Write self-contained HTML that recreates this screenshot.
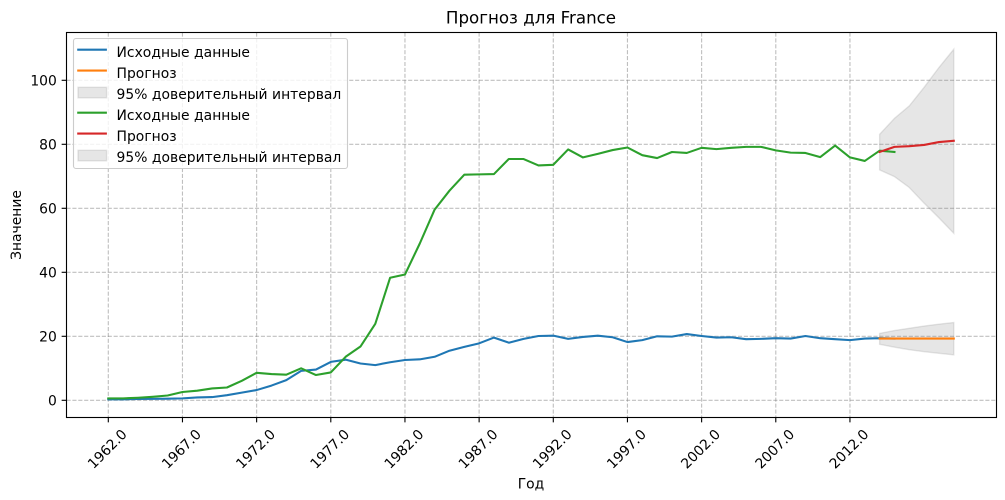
<!DOCTYPE html>
<html lang="ru">
<head>
<meta charset="utf-8">
<title>Прогноз для France</title>
<style>
html,body{margin:0;padding:0;background:#fff;}
body{width:1005px;height:500px;overflow:hidden;}
svg{display:block;}
text{font-family:"DejaVu Sans","Liberation Sans",sans-serif;fill:#000;font-size:13.89px;}
.legend-text{letter-spacing:0.03px;}
</style>
</head>
<body>
<svg id="chart" xmlns="http://www.w3.org/2000/svg" width="1005" height="500" viewBox="0 0 1005 500">
  <rect x="0" y="0" width="1005" height="500" fill="#fff"/>
  <g id="bands"></g>
  <g id="grid"></g>
  <g id="series"></g>
  <g id="axes"></g>
  <g id="xticks"></g>
  <g id="yticks"></g>
  <text x="531" y="23.5" text-anchor="middle" style="font-size:16.67px">Прогноз для France</text>
  <text x="531" y="488.5" text-anchor="middle">Год</text>
  <text transform="translate(21,225) rotate(-90)" text-anchor="middle">Значение</text>
  <g>
    <rect x="73.5" y="38.5" width="274" height="130" rx="2.5" ry="2.5" fill="#fff" fill-opacity="0.8" stroke="#cccccc" stroke-width="1.1"/>
    <g>
      <line x1="77.2" x2="106.9" y1="49.7" y2="49.7" stroke="#1f77b4" stroke-width="2.08"/>
      <text class="legend-text" x="116.5" y="57">Исходные данные</text>
    </g>
    <g>
      <line x1="77.2" x2="106.9" y1="70.6" y2="70.6" stroke="#ff7f0e" stroke-width="2.08"/>
      <text class="legend-text" x="116.5" y="77.9">Прогноз</text>
    </g>
    <g>
      <rect x="78" y="87.3" width="28.6" height="10.5" fill="#808080" fill-opacity="0.2" stroke="#808080" stroke-opacity="0.2" stroke-width="1.39"/>
      <text class="legend-text" x="116.5" y="98.8">95% доверительный интервал</text>
    </g>
    <g>
      <line x1="77.2" x2="106.9" y1="112.7" y2="112.7" stroke="#2ca02c" stroke-width="2.08"/>
      <text class="legend-text" x="116.5" y="120">Исходные данные</text>
    </g>
    <g>
      <line x1="77.2" x2="106.9" y1="133.6" y2="133.6" stroke="#d62728" stroke-width="2.08"/>
      <text class="legend-text" x="116.5" y="140.9">Прогноз</text>
    </g>
    <g>
      <rect x="78" y="150.3" width="28.6" height="10.5" fill="#808080" fill-opacity="0.2" stroke="#808080" stroke-opacity="0.2" stroke-width="1.39"/>
      <text class="legend-text" x="116.5" y="161.8">95% доверительный интервал</text>
    </g>
  </g>
</svg>
<script>
// ---- chart data ----
const years = [1962,1963,1964,1965,1966,1967,1968,1969,1970,1971,1972,1973,1974,1975,1976,1977,1978,1979,1980,1981,1982,1983,1984,1985,1986,1987,1988,1989,1990,1991,1992,1993,1994,1995,1996,1997,1998,1999,2000,2001,2002,2003,2004,2005,2006,2007,2008,2009,2010,2011,2012,2013,2014,2015];
const blueValues = [0.3,0.3,0.4,0.45,0.5,0.6,0.9,1.0,1.6,2.4,3.2,4.6,6.3,9.2,9.6,12.0,12.7,11.5,11.0,11.9,12.6,12.8,13.6,15.5,16.7,17.8,19.6,18.0,19.2,20.1,20.2,19.2,19.8,20.2,19.7,18.2,18.8,20.0,19.9,20.7,20.1,19.6,19.7,19.1,19.2,19.4,19.3,20.1,19.4,19.1,18.8,19.3,19.4,19.3];
const greenValues = [0.6,0.6,0.8,1.1,1.5,2.6,3.0,3.7,4.0,6.1,8.6,8.2,8.0,10.0,7.9,8.7,13.6,16.8,23.9,38.3,39.3,49.0,59.6,65.5,70.5,70.6,70.7,75.4,75.4,73.4,73.6,78.4,75.9,77.0,78.2,79.0,76.6,75.7,77.6,77.3,78.9,78.5,78.9,79.2,79.2,78.1,77.4,77.3,76.0,79.6,75.9,74.8,78.0,77.6];
const forecastYears = [2014,2015,2016,2017,2018,2019];
const orangeForecast = [19.3,19.3,19.3,19.3,19.3,19.3];
const orangeUpper = [20.9,21.8,22.5,23.2,23.8,24.3];
const orangeLower = [17.5,16.6,15.8,15.2,14.7,14.2];
const redForecast = [77.6,79.2,79.4,79.8,80.7,81.1];
const redUpper = [83.1,88.1,92.0,97.8,104.0,109.7];
const redLower = [72.0,69.9,66.5,61.6,57.0,52.2];
const xTickValues = [1962,1967,1972,1977,1982,1987,1992,1997,2002,2007,2012];
const xTickLabels = ["1962.0","1967.0","1972.0","1977.0","1982.0","1987.0","1992.0","1997.0","2002.0","2007.0","2012.0"];
const yTickValues = [0,20,40,60,80,100];
const yTickLabels = ["0","20","40","60","80","100"];

// ---- axis functions ----
const plotLeft = 66.5, plotRight = 996.5, plotTop = 32.5, plotBottom = 417.5;
function xScale(year){ return 108.3 + (year - 1962) * 14.833; }
function yScale(v){ return 400.3 - v * 3.2; }

const NS = "http://www.w3.org/2000/svg";
function make(tag, attrs, parent){
  const el = document.createElementNS(NS, tag);
  for (const k in attrs) el.setAttribute(k, attrs[k]);
  parent.appendChild(el);
  return el;
}
function linePoints(xs, ys){
  return xs.map((x, i) => xScale(x).toFixed(2) + "," + yScale(ys[i]).toFixed(2)).join(" ");
}
function bandPoints(xs, upper, lower){
  const top = xs.map((x, i) => xScale(x).toFixed(2) + "," + yScale(upper[i]).toFixed(2));
  const bottom = xs.map((x, i) => xScale(x).toFixed(2) + "," + yScale(lower[i]).toFixed(2)).reverse();
  return top.concat(bottom).join(" ");
}

const bands = document.getElementById("bands");
const grid = document.getElementById("grid");
const series = document.getElementById("series");
const axes = document.getElementById("axes");
const xticks = document.getElementById("xticks");
const yticks = document.getElementById("yticks");

// confidence bands
const bandStyle = {fill:"#808080","fill-opacity":"0.2",stroke:"#808080","stroke-opacity":"0.2","stroke-width":"1.39"};
const bandA = make("polygon", Object.assign({points:bandPoints(forecastYears, orangeUpper, orangeLower)}, bandStyle), bands);


const bandB = make("polygon", Object.assign({points:bandPoints(forecastYears, redUpper, redLower)}, bandStyle), bands);



// grid and ticks
const gridStyle = {stroke:"#808080","stroke-opacity":"0.5","stroke-width":"1.11","stroke-dasharray":"4.11 1.78"};
xTickValues.forEach((v, i) => {
  const x = xScale(v);
  const g = make("line", Object.assign({x1:x, x2:x, y1:plotTop, y2:plotBottom}, gridStyle), grid);
  
  
  const t = make("line", {x1:x, x2:x, y1:plotBottom, y2:plotBottom + 4.86, stroke:"#000", "stroke-width":"1.11"}, xticks);
  
  
  const lbl = make("text", {transform:"translate(" + (x - 0.5) + ",449.5) rotate(-45)", "text-anchor":"middle", "dominant-baseline":"central"}, xticks);
  
  
  lbl.textContent = xTickLabels[i];
});
yTickValues.forEach((v, i) => {
  const y = yScale(v);
  const g = make("line", Object.assign({x1:plotLeft, x2:plotRight, y1:y, y2:y}, gridStyle), grid);
  
  
  const t = make("line", {x1:plotLeft - 4.86, x2:plotLeft, y1:y, y2:y, stroke:"#000", "stroke-width":"1.11"}, yticks);
  
  
  const lbl = make("text", {x:plotLeft - 9.7, y:y + 5.2, "text-anchor":"end"}, yticks);
  
  
  lbl.textContent = yTickLabels[i];
});

// series
const lineStyle = {fill:"none","stroke-width":"2.08","stroke-linejoin":"round","stroke-linecap":"square"};
const blue = make("polyline", Object.assign({points:linePoints(years, blueValues), stroke:"#1f77b4"}, lineStyle), series);


const orange = make("polyline", Object.assign({points:linePoints(forecastYears, orangeForecast), stroke:"#ff7f0e"}, lineStyle), series);


const green = make("polyline", Object.assign({points:linePoints(years, greenValues), stroke:"#2ca02c"}, lineStyle), series);


const red = make("polyline", Object.assign({points:linePoints(forecastYears, redForecast), stroke:"#d62728"}, lineStyle), series);



// frame
const frame = make("rect", {x:plotLeft, y:plotTop, width:plotRight - plotLeft, height:plotBottom - plotTop, fill:"none", stroke:"#000", "stroke-width":"1.11"}, axes);


</script>
</body>
</html>
